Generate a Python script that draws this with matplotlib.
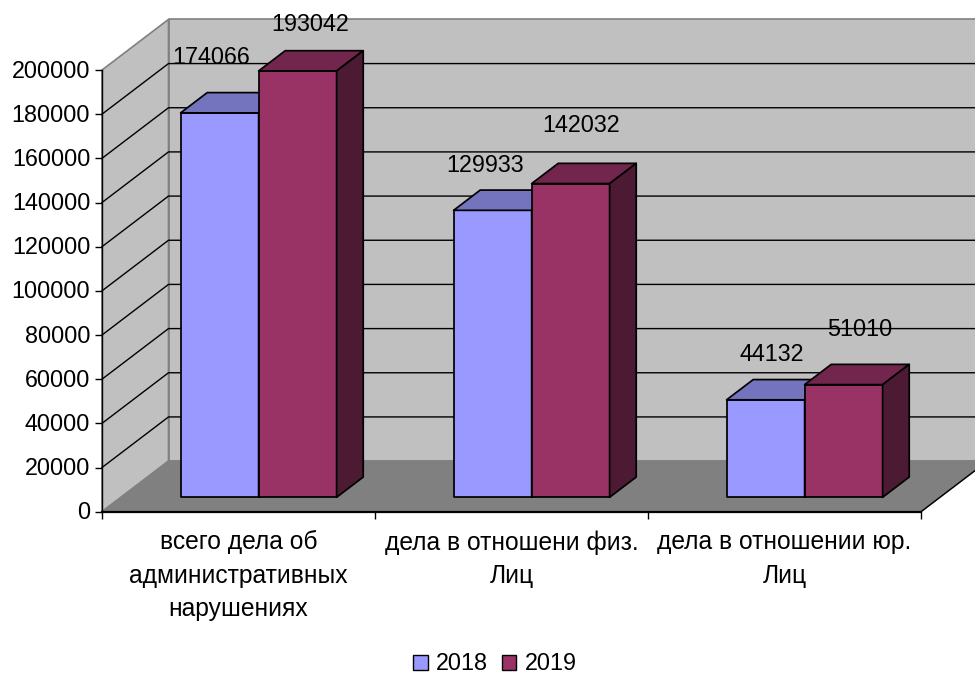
#!/usr/bin/env python
"""Administrative cases by year, drawn as an oblique 3D-style column chart."""

import matplotlib

matplotlib.use("Agg")
import matplotlib.pyplot as plt
from matplotlib.patches import Patch
from matplotlib.transforms import ScaledTranslation

plt.rcParams["font.family"] = ["Liberation Sans", "DejaVu Sans"]

categories = [
    "всего дела об\nадминистративных\nнарушениях",
    "дела в отношени физ.\nЛиц",
    "дела в отношении юр.\nЛиц",
]
years = ["2018", "2019"]
values_2018 = [174066, 129933, 44132]
values_2019 = [193042, 142032, 51010]
y_ticks = list(range(0, 200001, 20000))

FRONT = {"2018": "#9999FF", "2019": "#993366"}
TOP = {"2018": "#7474BE", "2019": "#73264D"}
SIDE = {"2018": "#4D4D80", "2019": "#4D1A33"}
WALL = "#C0C0C0"
FLOOR = "#808080"

FIG_W, FIG_H = 975, 675
AX_L, AX_R, AX_B, AX_T = 102, 921, 511.7, 70
FONT = 16.8
CAT_FONT = 17.7

fig = plt.figure(figsize=(FIG_W / 100, FIG_H / 100), dpi=100)
ax = fig.add_axes(
    [AX_L / FIG_W, 1 - AX_B / FIG_H, (AX_R - AX_L) / FIG_W, (AX_B - AX_T) / FIG_H]
)
ax.set_xlim(0, len(categories))
ax.set_ylim(0, y_ticks[-1])
ax.patch.set_visible(False)

# depth vector of the whole plot box, in data units
depth_x = 66.5 / (AX_R - AX_L) * len(categories)
depth_y = 50.6 / (AX_B - AX_T) * y_ticks[-1]


def proj(x, y, d=0.0):
    return x + d * depth_x, y + d * depth_y


def face(points, color, edge="none", lw=0.0, z=1):
    xs, ys = zip(*points)
    ax.fill(xs, ys, facecolor=color, edgecolor=edge, linewidth=lw, zorder=z,
            clip_on=False, joinstyle="round")


x_max = len(categories)
y_max = y_ticks[-1]

# walls and floor
face([proj(0, 0, 1), proj(x_max, 0, 1), proj(x_max, y_max, 1), proj(0, y_max, 1)],
     WALL, FLOOR, 1.2)
face([proj(0, 0), proj(0, 0, 1), proj(0, y_max, 1), proj(0, y_max)], WALL, FLOOR, 1.2)
face([proj(0, 0), proj(x_max, 0), proj(x_max, 0, 1), proj(0, 0, 1)], FLOOR, FLOOR, 1.1, z=1.5)

# gridlines run along the side wall and the back wall
for tick in y_ticks[1:-1]:
    xs, ys = zip(proj(0, tick), proj(0, tick, 1), proj(x_max, tick, 1))
    ax.plot(xs, ys, color="black", linewidth=1.0, zorder=1.2, clip_on=False)

xs, ys = zip(proj(x_max, 0), proj(x_max, 0, 1))
ax.plot(xs, ys, color="black", linewidth=1.0, zorder=1.6, clip_on=False)

bar_w = 1 / 3.5
half_gap = 0.765 / 3.5
bar_d0, bar_d1 = 0.285, 0.685


def box(left, height, year):
    right = left + bar_w
    face([proj(left, 0, bar_d0), proj(right, 0, bar_d0),
          proj(right, height, bar_d0), proj(left, height, bar_d0)],
         FRONT[year], "black", 1.25, z=3)
    face([proj(left, height, bar_d0), proj(right, height, bar_d0),
          proj(right, height, bar_d1), proj(left, height, bar_d1)],
         TOP[year], "black", 1.25, z=3)
    face([proj(right, 0, bar_d0), proj(right, 0, bar_d1),
          proj(right, height, bar_d1), proj(right, height, bar_d0)],
         SIDE[year], "black", 1.25, z=3)


# label offsets from the middle of the front top edge, in pixels
offsets_2018 = [(-8, 55), (-8, 45), (6, 45)]
offsets_2019 = [(13, 46), (10, 58), (16, 55)]

for i in range(len(categories)):
    left_18 = i + half_gap
    left_19 = left_18 + bar_w
    box(left_18, values_2018[i], "2018")
    box(left_19, values_2019[i], "2019")
    pairs = [(left_18, values_2018[i], offsets_2018[i]),
             (left_19, values_2019[i], offsets_2019[i])]
    for left, value, off in pairs:
        ax.annotate(str(value), proj(left + bar_w / 2, value, bar_d0),
                    xytext=(off[0] * 0.72, off[1] * 0.72), textcoords="offset points",
                    ha="center", va="center", fontsize=FONT, color="black",
                    zorder=5, annotation_clip=False)

# axes
for side in ("top", "right"):
    ax.spines[side].set_visible(False)
for side in ("left", "bottom"):
    ax.spines[side].set_color("black")
    ax.spines[side].set_zorder(4)
ax.spines["left"].set_linewidth(1.0)
ax.spines["bottom"].set_linewidth(1.6)

ax.set_yticks(y_ticks)
ax.set_yticklabels([str(t) for t in y_ticks], fontsize=FONT)
ax.tick_params(axis="y", length=5, width=1.0, pad=3.5)
nudge_up = ScaledTranslation(0, 1.5 / 100, fig.dpi_scale_trans)
for label in ax.get_yticklabels():
    label.set_transform(label.get_transform() + nudge_up)

ax.set_xticks(range(len(categories) + 1))
ax.set_xticklabels([])
ax.set_xticks([i + 0.5 for i in range(len(categories))], minor=True)
ax.set_xticklabels(categories, minor=True, fontsize=CAT_FONT, linespacing=1.5)
ax.tick_params(axis="x", which="major", length=5, width=1.0)
ax.tick_params(axis="x", which="minor", length=0, pad=13.5)

handles = [Patch(facecolor=FRONT[y], edgecolor="black", linewidth=1.0, label=y) for y in years]
fig.legend(handles=handles, loc="center", bbox_to_anchor=(495 / FIG_W, 1 - 664 / FIG_H),
           ncol=2, frameon=False, fontsize=FONT, handlelength=0.62, handleheight=0.62,
           handletextpad=0.35, columnspacing=0.6, borderpad=0, borderaxespad=0)

fig.savefig("out.png", dpi=100)
plt.close(fig)
